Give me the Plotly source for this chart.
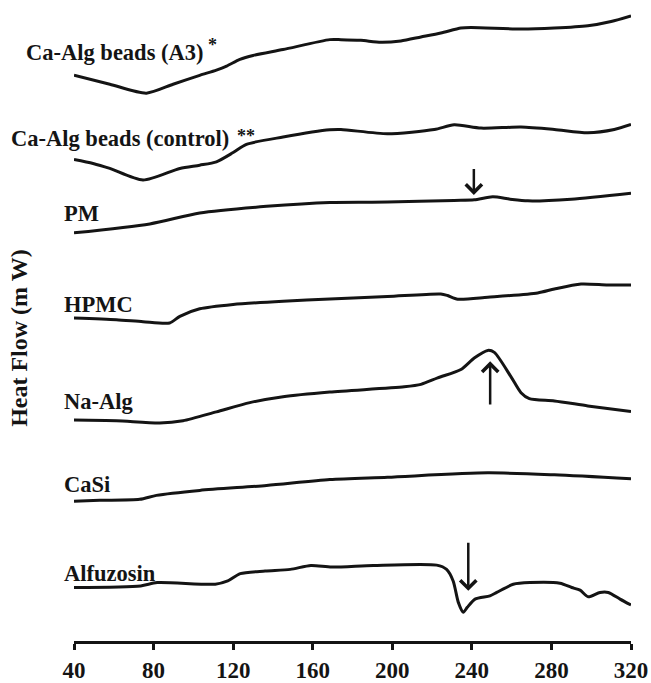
import plotly.graph_objects as go

# DSC thermograms: temperature (deg C) and relative heat flow for each sample
samples = ["Ca-Alg beads (A3)", "Ca-Alg beads (control)", "PM", "HPMC",
           "Na-Alg", "CaSi", "Alfuzosin"]

t_a3 = [40, 58, 76.4, 89.8, 103.2, 111.6, 116.7, 123.4, 130, 145.1, 168.6,
        174.2, 184.2, 194.3, 204.3, 214.4, 224.4, 234.5, 239.5, 264.7, 281.4,
        298.3, 310, 320]
hf_a3 = [0, -9, -18, -9, 0, 5.3, 9.3, 16, 20, 26, 36,
         36, 35.3, 33.3, 34.7, 38.7, 42.7, 47.7, 48.3, 46.7, 47.7,
         50, 54.3, 60]

t_ctrl = [40, 49.6, 58, 74.7, 93.2, 103.2, 111.6, 120, 126.7, 145.1, 168.6,
          174.2, 197.6, 221.1, 231.1, 244.6, 264.7, 281.5, 298.3, 311.6, 320]
hf_ctrl = [0, -4, -9, -20.7, -9, -5.7, -2.3, 7, 15.3, 22.7, 30,
           30.3, 26, 30.3, 35, 31.7, 32.7, 30.3, 27, 30.3, 35.3]

t_pm = [40, 78.1, 103.2, 136.8, 168.6, 197.6, 231.1, 241.2, 250.5, 259.2,
        268.1, 289.9, 320]
hf_pm = [0, 9, 20, 26.7, 30.7, 31, 32.7, 33.3, 36.3, 34, 32.3, 34, 40]

t_hpmc = [40, 61.3, 74.7, 88.1, 93.2, 103.2, 120, 145.1, 168.6, 197.6, 224.4,
          227.8, 232.9, 248, 273.1, 281.5, 294.9, 308.3, 320]
hf_hpmc = [0, -1.7, -3.7, -5, 1.7, 9.3, 13.7, 17, 19.3, 21.7, 24.3,
           22.7, 19, 21, 25.3, 29.3, 34.3, 33.3, 33.3]

t_naalg = [40, 61.3, 83.1, 94.8, 111.6, 128.4, 145.1, 168.6, 206, 214.4,
           222.8, 234.5, 241.2, 248, 251.3, 259.7, 264.7, 268.9, 281.5, 298.3,
           320]
hf_naalg = [0, -0.7, -3, -0.7, 8.3, 17.6, 23.6, 28.3, 33.6, 36,
            42.6, 51, 62.6, 70.3, 68.3, 43.6, 27.6, 21.6, 19.3, 14.3,
            8.6]

t_casi = [40, 52.9, 73, 81.4, 103.2, 136.8, 168.6, 197.6, 248, 281.5, 320]
hf_casi = [0, 1, 2, 6, 11, 16, 22, 24.3, 28.7, 26.7, 22.7]

t_alf = [40, 73.5, 81.8, 111, 117.3, 123.6, 136.1, 148.7, 159.1, 169.6, 190.5,
         222.3, 227.3, 230.6, 233.2, 235.7, 237.7, 241.6, 249.1, 252.5, 260.8,
         269.2, 284.3, 290.2, 294.4, 298.5, 304.4, 308.6, 314.5, 320]
hf_alf = [0, 1.6, 5, 3.3, 6.6, 14, 16.6, 18.3, 22.3, 20.6, 22.3,
          22.6, 18.3, 6.6, -15, -25, -20, -11.7, -8.4, -5, 3.3,
          5, 4.3, 0, -2.7, -9.4, -5, -5, -11.7, -17.7]

temps = [t_a3, t_ctrl, t_pm, t_hpmc, t_naalg, t_casi, t_alf]
flows = [hf_a3, hf_ctrl, hf_pm, hf_hpmc, hf_naalg, hf_casi, hf_alf]

x_ticks = [40, 80, 120, 160, 200, 240, 280, 320]

# Layout: vertical stacking offset of each thermogram and label placement
offsets = [571, 486, 412, 326, 223, 141, 54]
label_x = [-0.0898, -0.1162, -0.0221, -0.0221, -0.0221, -0.0221, -0.0221]  # paper
label_y = [594.5, 507, 431.2, 339.5, 241.5, 158, 68]
# Arrows marking thermal events: (sample index, temperature, tip, tail)
arrows = [(2, 241.0, 38.3, 66.0), (4, 249.2, 59.3, 14.3), (6, 238.2, -3.4, 46.6)]

INK = "#141414"
FONT = "Liberation Serif"

fig = go.Figure()
for t, hf, off, name in zip(temps, flows, offsets, samples):
    fig.add_trace(go.Scatter(
        x=t, y=[off + v for v in hf], mode="lines", name=name,
        line=dict(color=INK, width=3, shape="spline", smoothing=0.7),
        showlegend=False, hoverinfo="skip"))

annotations = []
for name, lx, ly in zip(samples, label_x, label_y):
    annotations.append(dict(
        x=lx, y=ly, xref="paper", yref="y", text=name, showarrow=False,
        xanchor="left", yanchor="middle",
        font=dict(family=FONT, size=22.5, color=INK, weight="bold")))

# significance marks beside the bead labels
for txt, sx, sy in [("*", 109.5, 602), ("**", 126.3, 509.5)]:
    annotations.append(dict(
        x=sx, y=sy, xref="x", yref="y", text=txt, showarrow=False,
        xanchor="center", yanchor="middle",
        font=dict(family=FONT, size=18, color=INK, weight="bold")))

for idx, t, tip, tail in arrows:
    off = offsets[idx]
    annotations.append(dict(
        x=t, y=off + tip, ax=t, ay=off + tail, xref="x", yref="y",
        axref="x", ayref="y", text="", showarrow=True,
        arrowhead=4, arrowsize=1.25, arrowwidth=2.5, arrowcolor=INK,
        standoff=0, startstandoff=0))

annotations.append(dict(
    x=-0.0987, y=306, xref="paper", yref="y", text="Heat Flow (m W)",
    textangle=-90, showarrow=False, xanchor="center", yanchor="middle",
    font=dict(family=FONT, size=24, color=INK, weight="bold")))

fig.update_layout(
    width=651, height=683,
    margin=dict(l=74, r=20, t=0, b=36),
    paper_bgcolor="white", plot_bgcolor="white",
    annotations=annotations,
    xaxis=dict(range=[40, 320], tickvals=x_ticks, ticktext=[str(v) for v in x_ticks],
               showgrid=False, zeroline=False, showline=True, linecolor=INK,
               linewidth=3, ticks="outside", ticklen=6, tickwidth=3,
               tickcolor=INK,
               tickfont=dict(family=FONT, size=23, color=INK, weight="bold")),
    yaxis=dict(range=[0, 647], visible=False, showgrid=False, zeroline=False),
)

fig.write_html("out.html")
